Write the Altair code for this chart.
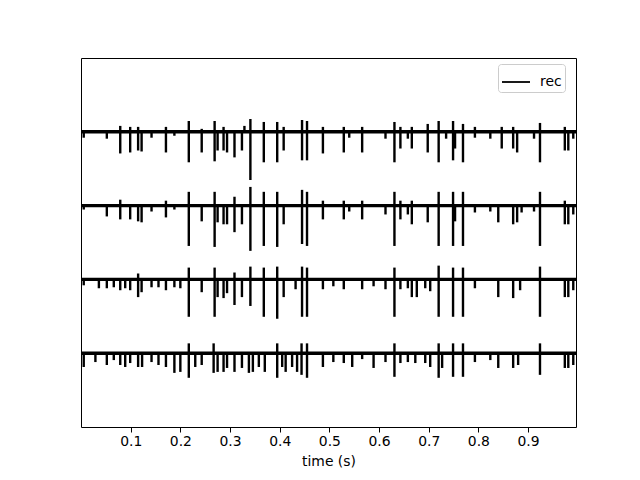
import altair as alt
import pandas as pd

# Spike events per channel: (time s, upward amplitude µV, downward amplitude µV)
ch_top = [(0.0055,0,60),(0.052,0,70),(0.079,60,220),(0.099,50,210),(0.115,50,190),(0.122,0,200),
          (0.142,0,60),(0.171,50,210),(0.188,0,40),(0.217,110,310),(0.243,30,210),(0.269,110,300),
          (0.275,0,190),(0.287,50,190),(0.294,0,210),(0.309,0,260),(0.324,0,190),(0.329,60,0),
          (0.341,130,490),(0.368,100,310),(0.395,100,310),(0.408,50,190),(0.445,120,290),(0.455,110,290),
          (0.487,50,220),(0.529,50,210),(0.540,0,60),(0.566,50,210),(0.613,0,70),(0.631,100,310),
          (0.643,50,170),(0.658,0,70),(0.666,50,170),(0.698,80,210),(0.720,110,310),(0.735,0,70),
          (0.749,110,290),(0.753,0,170),(0.769,80,310),(0.793,50,60),(0.824,0,70),(0.847,50,170),
          (0.870,50,170),(0.878,0,210),(0.912,0,70),(0.924,90,310),(0.974,50,190),(0.981,0,190),
          (0.991,0,70)]
ch_2 = [(0.0055,0,40),(0.052,0,110),(0.079,60,140),(0.099,0,140),(0.115,0,160),(0.122,0,170),
        (0.142,0,60),(0.171,50,120),(0.188,0,40),(0.217,140,410),(0.243,0,160),(0.269,140,420),
        (0.275,0,170),(0.287,0,190),(0.294,0,190),(0.309,90,270),(0.324,0,190),(0.341,190,460),
        (0.368,140,410),(0.395,140,420),(0.408,0,190),(0.445,160,390),(0.455,140,410),(0.487,50,140),
        (0.529,50,140),(0.540,0,60),(0.566,50,140),(0.613,0,90),(0.631,140,410),(0.643,50,140),
        (0.658,0,90),(0.666,50,190),(0.698,0,170),(0.720,140,410),(0.749,140,410),(0.753,0,160),
        (0.769,140,410),(0.793,0,70),(0.824,0,60),(0.840,0,170),(0.870,0,190),(0.878,0,170),
        (0.887,0,70),(0.912,0,60),(0.924,140,410),(0.974,50,190),(0.981,0,190),(0.991,0,90)]
ch_3 = [(0.0055,0,60),(0.036,0,90),(0.052,0,90),(0.066,0,80),(0.079,0,110),(0.089,0,90),
        (0.099,0,110),(0.115,60,180),(0.122,0,130),(0.142,0,80),(0.156,0,80),(0.171,0,110),
        (0.188,0,80),(0.200,0,90),(0.217,120,380),(0.243,0,130),(0.269,120,380),(0.275,0,180),
        (0.287,0,190),(0.294,0,140),(0.309,70,260),(0.324,0,180),(0.341,130,270),(0.368,120,380),
        (0.395,130,400),(0.408,0,180),(0.432,0,100),(0.445,130,380),(0.455,120,380),(0.487,0,100),
        (0.508,0,70),(0.529,0,100),(0.566,0,100),(0.589,0,70),(0.613,0,100),(0.631,120,380),
        (0.643,0,100),(0.658,0,90),(0.666,0,180),(0.676,0,180),(0.693,0,90),(0.703,0,120),
        (0.720,140,380),(0.749,120,380),(0.769,120,380),(0.793,0,90),(0.840,0,180),(0.870,0,190),
        (0.884,0,110),(0.924,130,380),(0.974,0,180),(0.981,0,180),(0.991,0,110)]
ch_bottom = [(0.0055,0,140),(0.029,0,90),(0.052,0,120),(0.066,0,70),(0.079,0,120),(0.089,0,140),
             (0.099,0,100),(0.115,0,140),(0.123,0,140),(0.142,0,90),(0.156,0,120),(0.171,0,140),
             (0.188,0,200),(0.200,0,190),(0.217,100,250),(0.230,0,140),(0.243,0,120),(0.267,100,200),
             (0.275,0,190),(0.287,0,190),(0.294,0,150),(0.309,0,190),(0.324,0,150),(0.338,0,200),
             (0.346,0,190),(0.358,0,140),(0.370,0,190),(0.395,100,250),(0.405,0,140),(0.412,0,190),
             (0.425,0,140),(0.435,0,190),(0.444,100,220),(0.455,100,250),(0.487,0,140),(0.508,0,90),
             (0.529,0,100),(0.546,0,140),(0.566,0,60),(0.589,0,150),(0.613,0,90),(0.631,100,240),
             (0.643,0,100),(0.658,0,90),(0.673,0,100),(0.693,0,100),(0.703,0,140),(0.720,100,250),
             (0.727,0,150),(0.749,100,240),(0.769,100,240),(0.793,0,90),(0.824,0,70),(0.840,0,150),
             (0.870,0,150),(0.880,0,120),(0.924,100,220),(0.974,0,150),(0.981,0,150),(0.991,0,120)]

channels = [ch_top, ch_2, ch_3, ch_bottom]
offsets = [2250, 1500, 750, 0]   # µV vertical offset of each trace
x_ticks = [0.1, 0.2, 0.3, 0.4, 0.5, 0.6, 0.7, 0.8, 0.9]
t_end = 0.9965

rows = []
for off, ch in zip(offsets, channels):
    for t, up, down in ch:
        rows.append({"t": t, "lo": off - down, "hi": off + up})
spikes = pd.DataFrame(rows)
base = pd.DataFrame({"y": offsets, "label": ["rec"] * 4})

xscale = alt.Scale(domain=[0, t_end], nice=False, zero=False)
yscale = alt.Scale(domain=[-750, 3000], nice=False, zero=False)

baseline = alt.Chart(base).mark_rule(strokeWidth=3.4).encode(
    y=alt.Y("y:Q", scale=yscale, axis=None),
    color=alt.Color("label:N", scale=alt.Scale(range=["black"]),
                    legend=alt.Legend(title=None, orient="none", legendX=417, legendY=6,
                                      symbolType="stroke", symbolSize=784,
                                      symbolStrokeWidth=1.8, labelFontSize=13.9,
                                      labelFont="DejaVu Sans", labelColor="black",
                                      strokeColor="#cccccc", fillColor="white",
                                      padding=3, cornerRadius=3, labelOffset=9)),
)

spk = alt.Chart(spikes).mark_rule(strokeWidth=2.4, color="black").encode(
    x=alt.X("t:Q", scale=xscale,
            axis=alt.Axis(title="time (s)", values=x_ticks, format=".1f", grid=False,
                          domain=False, tickSize=5, tickColor="black", labelColor="black",
                          labelFontSize=13.9, titleFontSize=13.9, titleFontWeight="normal",
                          labelFont="DejaVu Sans", titleFont="DejaVu Sans", titleColor="black",
                          labelPadding=2, titlePadding=7)),
    y=alt.Y("lo:Q", scale=yscale, axis=None),
    y2="hi:Q",
)

chart = alt.layer(spk, baseline).properties(
    width=495, height=369,
    autosize=alt.AutoSizeParams(type="none"),
    padding={"left": 73, "top": 50, "right": 56, "bottom": 45},
).configure_view(stroke="black", strokeWidth=1)

chart.save("out.html", embed_options={"renderer": "svg", "actions": False})
